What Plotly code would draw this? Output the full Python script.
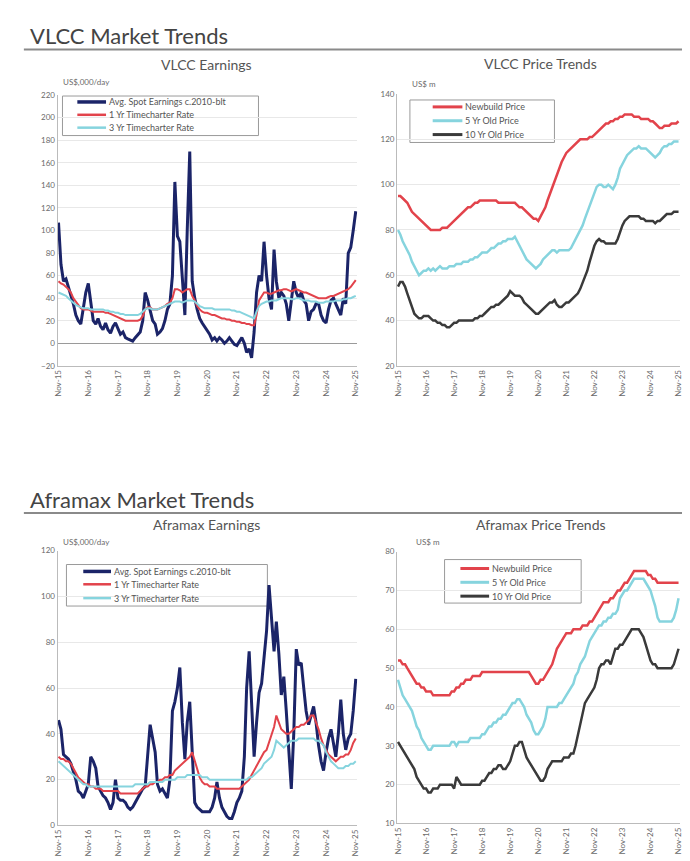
import pandas as pd
import plotly.graph_objects as go

START = "2015-11-01"

# ---------------- VLCC earnings (US$,000/day) ----------------
vlcc_spot = [
    107, 70, 55, 57, 50, 43, 35, 25, 20, 17,
    30, 45, 53, 35, 20, 17, 22, 15, 12, 18,
    12, 9, 15, 18, 12, 8, 10, 5, 4, 3,
    2, 5, 8, 10, 20, 45, 38, 28, 20, 17,
    8, 10, 13, 20, 30, 35, 60, 143, 95, 90,
    60, 25, 100, 170, 55, 40, 30, 22, 18, 15,
    12, 8, 3, 5, 2, 5, 3, 0, 2, 5,
    2, -1, -2, 2, 5, 0, -8, -5, -13, 10,
    45, 60, 55, 90, 60, 40, 30, 83, 55, 40,
    45, 42, 35, 20, 40, 55, 45, 40, 45, 38,
    35, 20, 28, 30, 35, 35, 25, 20, 18, 30,
    38, 40, 35, 30, 25, 40, 35, 80, 85, 100,
    117,
]
vlcc_tc1 = [
    55, 53, 52, 50, 48, 45, 40, 37, 34, 31,
    30, 30, 30, 29, 28, 28, 28, 28, 28, 27,
    27, 26, 25, 24, 23, 22, 21, 20, 20, 20,
    20, 20, 20, 21, 24, 30, 32, 32, 30, 30,
    30, 31, 32, 33, 35, 36, 40, 48, 48, 47,
    45, 47, 48, 48, 42, 38, 33, 30, 28, 27,
    27, 26, 25, 25, 24, 23, 22, 22, 21, 21,
    20, 20, 19, 19, 18, 18, 17, 17, 16, 16,
    25, 38, 42, 45, 45, 44, 44, 45, 46, 47,
    47, 48, 48, 47, 46, 47, 48, 47, 46, 45,
    45, 44, 43, 42, 41, 40, 40, 40, 40, 41,
    42, 42, 43, 44, 45, 46, 47, 48, 50, 53,
    56,
]
vlcc_tc3 = [
    45, 44, 43, 42, 40, 38, 36, 34, 33, 32,
    31, 31, 31, 30, 30, 30, 30, 30, 30, 29,
    29, 28, 28, 27, 27, 26, 26, 25, 25, 25,
    25, 25, 25, 26, 28, 30, 31, 31, 30, 30,
    30, 31, 32, 33, 34, 35, 36, 37, 37, 37,
    36, 37, 38, 38, 38, 37, 35, 33, 32, 31,
    31, 31, 31, 30, 30, 30, 30, 30, 30, 30,
    29, 29, 28, 28, 27, 26, 25, 24, 23, 22,
    28, 33, 35, 36, 37, 37, 38, 38, 38, 39,
    40, 40, 40, 40, 39, 39, 40, 40, 39, 38,
    38, 38, 37, 37, 37, 36, 36, 36, 37, 37,
    37, 37, 38, 38, 38, 39, 39, 40, 40, 41,
    42,
]

# ---------------- VLCC prices (US$ m) ----------------
vlcc_nb = [
    95, 95, 94, 93, 92, 90, 88, 87, 86, 85,
    84, 83, 82, 81, 80, 80, 80, 80, 80, 81,
    81, 81, 82, 83, 84, 85, 86, 87, 88, 89,
    90, 90, 91, 92, 92, 93, 93, 93, 93, 93,
    93, 93, 93, 92, 92, 92, 92, 92, 92, 92,
    92, 91, 90, 90, 89, 88, 87, 86, 85, 85,
    84, 86, 88, 90, 93, 96, 99, 102, 105, 107,
    110, 112, 114, 115, 116, 117, 118, 119, 120, 120,
    120, 120, 121, 121, 122, 123, 124, 125, 126, 127,
    127, 128, 128, 129, 129, 130, 130, 131, 131, 131,
    131, 130, 130, 130, 129, 129, 129, 129, 128, 128,
    127, 126, 125, 125, 126, 126, 126, 127, 127, 127,
    128,
]
vlcc_5yr = [
    80, 78, 75, 73, 71, 69, 66, 64, 62, 60,
    61, 62, 62, 63, 62, 63, 62, 63, 64, 63,
    63, 63, 64, 64, 64, 65, 65, 65, 66, 66,
    66, 67, 67, 68, 68, 69, 70, 70, 70, 71,
    72, 72, 73, 74, 74, 75, 75, 76, 76, 76,
    77, 75, 73, 71, 69, 67, 66, 65, 64, 63,
    64, 65, 67, 68, 69, 70, 71, 71, 70, 71,
    71, 71, 71, 71, 72, 74, 76, 78, 80, 82,
    85, 88, 90, 93, 96, 99, 100, 100, 99, 99,
    100, 99, 98, 100, 103, 107, 109, 111, 113, 114,
    115, 116, 116, 117, 116, 116, 116, 115, 114, 113,
    112, 113, 114, 116, 117, 117, 118, 118, 119, 119,
    119,
]
vlcc_10yr = [
    55, 57, 57, 55, 52, 49, 46, 43, 42, 41,
    41, 42, 42, 42, 41, 40, 40, 39, 39, 38,
    38, 37, 37, 38, 39, 39, 40, 40, 40, 40,
    40, 40, 40, 41, 41, 42, 42, 43, 44, 45,
    46, 46, 47, 47, 48, 49, 50, 51, 53, 52,
    51, 51, 51, 50, 48, 47, 46, 45, 44, 43,
    43, 44, 45, 46, 47, 48, 48, 49, 47, 46,
    46, 47, 48, 48, 49, 50, 51, 52, 54, 57,
    59, 62, 66, 70, 73, 75, 76, 75, 75, 74,
    74, 74, 74, 74, 76, 79, 82, 84, 85, 86,
    86, 86, 86, 86, 85, 85, 84, 84, 84, 84,
    83, 84, 84, 85, 86, 87, 87, 87, 88, 88,
    88,
]

# ---------------- Aframax earnings (US$,000/day) ----------------
afra_spot = [
    46, 42, 31, 30, 29, 27, 24, 20, 15, 14,
    12, 15, 18, 30, 28, 25, 17, 15, 13, 12,
    10, 7, 10, 20, 12, 11, 11, 10, 8, 7,
    8, 10, 12, 14, 16, 17, 30, 44, 38, 32,
    18, 15, 16, 14, 12, 20, 50, 54, 60, 69,
    45, 29, 45, 54, 30, 10, 8, 7, 6, 6,
    6, 6, 8, 12, 19, 12, 8, 6, 4, 3,
    3, 6, 10, 12, 15, 30, 60, 76, 50, 30,
    45, 58, 62, 75, 85, 105, 90, 76, 89, 75,
    57, 65, 50, 35, 16, 40, 77, 70, 71, 60,
    50, 44, 48, 52, 45, 35, 28, 24, 32, 38,
    42, 35, 30, 40, 55, 40, 33, 38, 40, 50,
    64,
]
afra_tc1 = [
    30, 29, 29, 28, 28, 27, 25, 23, 21, 20,
    19, 18, 18, 17, 17, 16, 16, 16, 15, 15,
    15, 15, 15, 15, 15, 14, 14, 14, 14, 14,
    14, 14, 14, 15, 16, 17, 17, 18, 18, 19,
    19, 20, 20, 21, 21, 22, 22, 24, 25, 26,
    27, 28, 29, 30, 32, 28, 24, 21, 19, 18,
    18, 17, 17, 17, 16, 16, 16, 16, 16, 16,
    16, 16, 16, 16, 17, 18, 19, 20, 22, 24,
    26, 28, 30, 32, 33, 36, 40, 43, 48, 45,
    42, 41, 40, 40, 41, 42, 43, 43, 44, 44,
    45, 46, 48, 48, 45, 42, 38, 35, 33, 31,
    30, 29, 28, 29, 30, 30, 31, 31, 33, 36,
    38,
]
afra_tc3 = [
    28, 27, 26, 25, 24, 23, 22, 21, 20, 19,
    18, 18, 17, 17, 17, 17, 17, 17, 17, 17,
    17, 17, 17, 17, 17, 17, 17, 17, 17, 17,
    17, 18, 18, 18, 18, 18, 18, 19, 19, 19,
    19, 19, 19, 20, 20, 20, 20, 20, 21, 21,
    21, 21, 22, 22, 22, 22, 22, 22, 21, 21,
    21, 20, 20, 20, 20, 20, 20, 20, 20, 20,
    20, 20, 20, 20, 20, 20, 20, 21, 21, 22,
    23, 24, 25, 27, 28, 29, 30, 33, 37, 36,
    35, 34, 35, 36, 37, 37, 37, 38, 38, 38,
    38, 38, 38, 38, 37, 37, 36, 35, 32, 30,
    28, 27, 26, 25, 25, 25, 26, 26, 27, 27,
    28,
]

# ---------------- Aframax prices (US$ m) ----------------
afra_nb = [
    52, 52, 51, 51, 50, 49, 48, 47, 46, 46,
    45, 45, 44, 44, 44, 43, 43, 43, 43, 43,
    43, 43, 43, 44, 44, 45, 45, 46, 46, 47,
    47, 47, 48, 48, 48, 48, 49, 49, 49, 49,
    49, 49, 49, 49, 49, 49, 49, 49, 49, 49,
    49, 49, 49, 49, 49, 49, 49, 48, 47, 46,
    46, 47, 47, 48, 49, 50, 51, 53, 55, 56,
    57, 58, 59, 59, 59, 60, 60, 60, 60, 61,
    61, 61, 62, 62, 63, 64, 65, 66, 67, 67,
    67, 68, 68, 69, 70, 70, 71, 72, 72, 73,
    74, 75, 75, 75, 75, 75, 75, 74, 74, 73,
    73, 72, 72, 72, 72, 72, 72, 72, 72, 72,
    72,
]
afra_5yr = [
    47, 45, 43, 42, 41, 40, 39, 37, 35, 34,
    32, 31, 30, 29, 29, 30, 30, 30, 30, 30,
    30, 30, 30, 31, 31, 30, 31, 31, 31, 31,
    31, 32, 32, 32, 32, 32, 33, 33, 34, 35,
    35, 36, 36, 37, 37, 38, 38, 39, 40, 41,
    41, 42, 42, 41, 40, 38, 37, 36, 34, 33,
    33, 34, 35, 37, 40, 40, 40, 40, 40, 41,
    41, 42, 43, 44, 45, 46, 48, 49, 51, 52,
    53, 55, 57, 58, 59, 60, 61, 61, 62, 62,
    63, 63, 64, 64, 65, 68, 69, 70, 70, 71,
    72, 73, 73, 73, 73, 73, 72, 71, 70, 68,
    66, 63, 62, 62, 62, 62, 62, 62, 63, 65,
    68,
]
afra_10yr = [
    31, 30, 29, 28, 27, 26, 25, 24, 22, 21,
    20, 19, 19, 18, 18, 19, 19, 19, 20, 20,
    20, 20, 20, 20, 19, 22, 21, 20, 20, 20,
    20, 20, 20, 20, 20, 20, 21, 21, 22, 23,
    23, 24, 24, 25, 25, 24, 24, 25, 26, 28,
    30, 30, 31, 31, 29, 27, 26, 25, 24, 23,
    22, 21, 21, 22, 24, 25, 26, 26, 26, 26,
    26, 27, 27, 27, 28, 28, 30, 33, 36, 39,
    41, 42, 43, 44, 45, 47, 50, 51, 51, 52,
    52, 51, 53, 55, 55, 56, 56, 57, 58, 59,
    60, 60, 60, 60, 59, 58, 56, 54, 52, 51,
    51, 50, 50, 50, 50, 50, 50, 50, 51, 53,
    55,
]

earn_names = ["Avg. Spot Earnings c.2010-blt", "1 Yr Timecharter Rate", "3 Yr Timecharter Rate"]
price_names = ["Newbuild Price", "5 Yr Old Price", "10 Yr Old Price"]

W, H = 690, 861
NAVY, RED, CYAN, DARK = "#1b2468", "#e2434b", "#86d4de", "#3a3a3a"
GRID = "#e8e8e8"
TXT = "#6a6a6a"
FONT = "Lato"

earn_colors = [NAVY, RED, CYAN]
earn_widths = [3, 2, 2]
price_colors = [RED, CYAN, DARK]
price_widths = [2.5, 2.5, 2.5]


def px(x):
    return x / W


def py(y):
    return 1 - y / H


def dates(arr):
    return pd.date_range(START, periods=len(arr), freq="MS")


fig = go.Figure()


def add(arr, name, color, width, xa, ya):
    fig.add_trace(go.Scatter(
        x=dates(arr), y=arr, name=name, mode="lines",
        line=dict(color=color, width=width),
        xaxis=xa, yaxis=ya, showlegend=False,
    ))


for arr, i in [(vlcc_spot, 0), (vlcc_tc1, 1), (vlcc_tc3, 2)]:
    add(arr, earn_names[i], earn_colors[i], earn_widths[i], "x", "y")
for arr, i in [(vlcc_nb, 0), (vlcc_5yr, 1), (vlcc_10yr, 2)]:
    add(arr, price_names[i], price_colors[i], price_widths[i], "x2", "y2")
for arr, i in [(afra_spot, 0), (afra_tc1, 1), (afra_tc3, 2)]:
    add(arr, earn_names[i], earn_colors[i], earn_widths[i], "x3", "y3")
for arr, i in [(afra_nb, 0), (afra_5yr, 1), (afra_10yr, 2)]:
    add(arr, price_names[i], price_colors[i], price_widths[i], "x4", "y4")

xr = ["2015-10-20", "2025-11-22"]
xcommon = dict(
    type="date", range=xr, tick0="2015-11-01", dtick="M12", tickformat="%b-%y",
    tickangle=-90, showgrid=False, showline=True, linecolor="#bbbbbb", linewidth=1,
    ticks="", tickfont=dict(size=8, color=TXT, family=FONT), zeroline=False,
)
ycommon = dict(
    showgrid=True, gridcolor=GRID, gridwidth=1, showline=True, linecolor="#bbbbbb",
    linewidth=1, ticks="", tickfont=dict(size=8, color=TXT, family=FONT),
)

L1, R1 = px(46), px(349)
L2, R2 = px(389), px(675)

fig.update_layout(
    width=W, height=H, margin=dict(l=0, r=0, t=0, b=0),
    paper_bgcolor="white", plot_bgcolor="white",
    font=dict(family=FONT, color=TXT),
    showlegend=False,
    xaxis=dict(domain=[L1, R1], anchor="y", **xcommon),
    yaxis=dict(domain=[py(357), py(83)], anchor="x", range=[-20, 220], dtick=20,
               zeroline=True, zerolinecolor="#9a9a9a", zerolinewidth=1, **ycommon),
    xaxis2=dict(domain=[L2, R2], anchor="y2", **xcommon),
    yaxis2=dict(domain=[py(357), py(82)], anchor="x2", range=[20, 140], dtick=20,
                zeroline=False, **ycommon),
    xaxis3=dict(domain=[L1, R1], anchor="y3", **xcommon),
    yaxis3=dict(domain=[py(822), py(544)], anchor="x3", range=[0, 120], dtick=20,
                zeroline=False, **ycommon),
    xaxis4=dict(domain=[L2, R2], anchor="y4", **xcommon),
    yaxis4=dict(domain=[py(820), py(545)], anchor="x4", range=[10, 80], dtick=10,
                zeroline=False, **ycommon),
)


def legend_box(box, rows, lx, names, colors, widths):
    x0, y0, x1, y1 = box
    fig.add_shape(type="rect", xref="paper", yref="paper", layer="below",
                  x0=px(x0), x1=px(x1), y0=py(y0), y1=py(y1),
                  line=dict(color="#9a9a9a", width=1), fillcolor="white")
    for ry, name, c, w in zip(rows, names, colors, widths):
        fig.add_shape(type="line", xref="paper", yref="paper",
                      x0=px(lx[0]), x1=px(lx[1]), y0=py(ry), y1=py(ry),
                      line=dict(color=c, width=w + 0.5))
        fig.add_annotation(text=name, x=px(lx[1] + 1), y=py(ry), xref="paper", yref="paper",
                           xanchor="left", yanchor="middle", showarrow=False,
                           font=dict(size=9, color="#555555", family=FONT))


legend_box((51, 84, 249, 124), (90, 103, 116), (66, 95), earn_names, earn_colors, earn_widths)
legend_box((402, 88, 548, 131), (95, 109, 123), (425, 455), price_names, price_colors, price_widths)
legend_box((55, 558, 258, 600), (565, 578, 592), (72, 100), earn_names, earn_colors, earn_widths)
legend_box((437, 553, 575, 597), (562, 576, 590), (453, 482), price_names, price_colors, price_widths)

# Section titles and rules
for title, ty, ry in [("VLCC Market Trends", 23, 37), ("Aframax Market Trends", 492, 506)]:
    fig.add_annotation(text=title, x=px(16), y=py(ty), xref="paper", yref="paper",
                       xanchor="left", yanchor="middle", showarrow=False,
                       font=dict(size=22, color="#444444", family=FONT))
    fig.add_shape(type="line", xref="paper", yref="paper", x0=px(12), x1=1,
                  y0=py(ry), y1=py(ry), line=dict(color="#8a8a8a", width=2))

# chart titles
for text, cx, cy in [("VLCC Earnings", 196, 52), ("VLCC Price Trends", 534, 51),
                     ("Aframax Earnings", 196, 518), ("Aframax Price Trends", 534, 518)]:
    fig.add_annotation(text=text, x=px(cx), y=py(cy), xref="paper", yref="paper",
                       xanchor="center", yanchor="middle", showarrow=False,
                       font=dict(size=14, color="#555555", family=FONT))

# unit labels
for text, ux, uy in [("US$,000/day", 50, 70), ("US$ m", 402, 72),
                     ("US$,000/day", 50, 535), ("US$ m", 406, 535)]:
    fig.add_annotation(text=text, x=px(ux), y=py(uy), xref="paper", yref="paper",
                       xanchor="left", yanchor="middle", showarrow=False,
                       font=dict(size=8, color=TXT, family=FONT))

fig.write_html("out.html")
